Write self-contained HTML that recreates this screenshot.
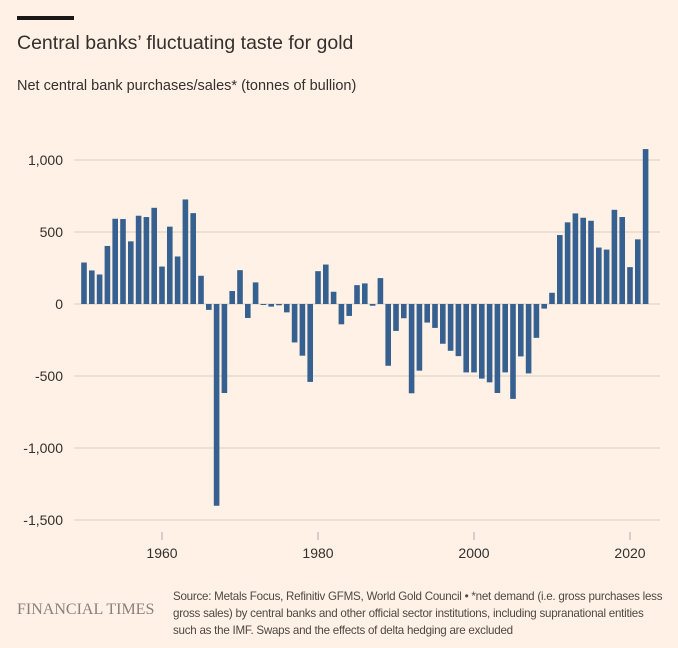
<!DOCTYPE html>
<html><head><meta charset="utf-8">
<style>
body{margin:0;background:#fff1e5;font-family:"Liberation Sans",sans-serif;}
#wrap{position:relative;width:678px;height:648px;background:#fff1e5;overflow:hidden;}
</style></head>
<body>
<div id="wrap">
<div style="position:absolute;left:17px;top:16px;width:57px;height:4px;background:#1a1817"></div>
<div style="position:absolute;left:17px;top:32px;font-size:19.5px;color:#33302e">Central banks’ fluctuating taste for gold</div>
<div style="position:absolute;left:17px;top:78px;font-size:14.5px;color:#33302e">Net central bank purchases/sales* (tonnes of bullion)</div>
<svg id="chart" width="678" height="648" style="position:absolute;left:0;top:0"></svg>
<div style="position:absolute;left:17px;top:601px;font-family:'Liberation Serif',serif;font-size:16px;color:#8a817a;letter-spacing:0px">FINANCIAL TIMES</div>
<div style="position:absolute;left:173px;top:588px;width:490px;font-size:11.6px;line-height:17px;letter-spacing:-0.25px;color:#4d4845">Source: Metals Focus, Refinitiv GFMS, World Gold Council • *net demand (i.e. gross purchases less gross sales) by central banks and other official sector institutions, including supranational entities such as the IMF. Swaps and the effects of delta hedging are excluded</div>
</div>
<script>
const years = [];
for (let y = 1950; y <= 2022; y++) years.push(y);
const values = [288,233,205,403,592,590,435,613,604,668,260,537,330,726,631,196,-41,-1401,-618,90,235,-97,150,-7,-18,-9,-58,-267,-359,-541,228,274,85,-141,-83,131,143,-12,180,-429,-187,-99,-620,-463,-129,-166,-276,-325,-362,-475,-475,-518,-544,-618,-475,-659,-364,-482,-235,-32,78,479,567,629,599,578,392,378,654,604,256,449,1076];
const yTicks = [1000,500,0,-500,-1000,-1500];
const yTickLabels = ["1,000","500","0","-500","-1,000","-1,500"];
const xTicks = [1960,1980,2000,2020];

const svg = document.getElementById('chart');
const NS = 'http://www.w3.org/2000/svg';
const yScale = v => 304 - v * 0.144;
const xScale = yr => 162 + (yr - 1960) * 7.8;
function mk(tag, attrs){const e=document.createElementNS(NS,tag);for(const k in attrs)e.setAttribute(k,attrs[k]);svg.appendChild(e);return e;}

yTicks.forEach((t,i)=>{
  const g = mk('line',{x1:74,x2:660,y1:yScale(t),y2:yScale(t),stroke:'#e0d6cc','stroke-width':1.2});
  
  
  const l = mk('text',{x:63,y:yScale(t)+5,'text-anchor':'end','font-size':14,fill:'#33302e','font-family':'Liberation Sans, sans-serif'});
  l.textContent = yTickLabels[i];
  
  
});
xTicks.forEach(t=>{
  const tk = mk('line',{x1:xScale(t),x2:xScale(t),y1:532,y2:540,stroke:'#b3aba5','stroke-width':1});
  
  
  const l = mk('text',{x:xScale(t),y:558,'text-anchor':'middle','font-size':14,fill:'#33302e','font-family':'Liberation Sans, sans-serif'});
  l.textContent = t;
  
  
});
values.forEach((v,i)=>{
  const x = xScale(years[i]);
  const y0 = yScale(0), y1 = yScale(v);
  const b = mk('rect',{x:x-2.8,y:Math.min(y0,y1),width:5.6,height:Math.max(0.8,Math.abs(y1-y0)),fill:'#36608f'});
  
  
});
</script>
</body></html>
